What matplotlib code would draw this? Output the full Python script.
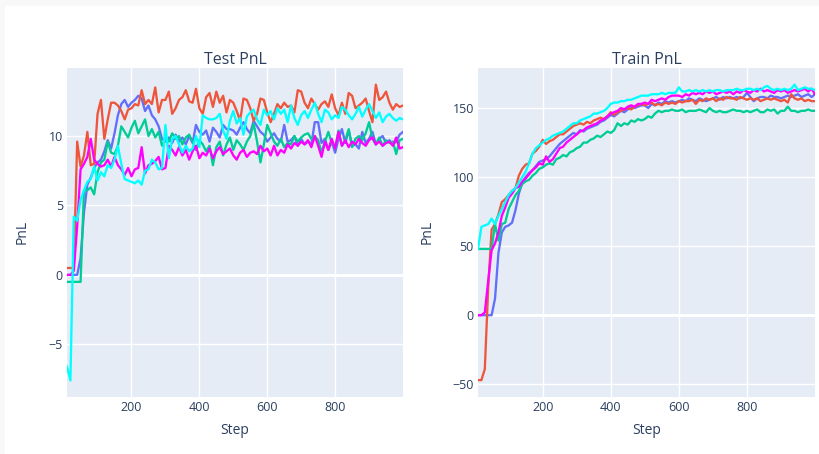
import matplotlib.pyplot as plt
from matplotlib.patches import Rectangle

plt.rcParams['font.family'] = ['Open Sans', 'DejaVu Sans']

steps = list(range(10, 1001, 10))

# ---- Test PnL ----
test_blue = [0, 0, 0, 0, 1.2, 4.5, 6.5, 7.0, 7.7, 8.1,
             8.3, 8.9, 9.7, 9.1, 10.2, 11.5, 12.3, 12.6, 12.1, 12.4,
             12.6, 12.9, 12.7, 11.8, 12.2, 11.5, 11.2, 10.7, 9.8, 9.6,
             9.9, 9.5, 10.1, 9.6, 9.9, 9.4, 10.0, 9.5, 10.8, 10.3,
             10.1, 10.4, 9.6, 10.6, 10.3, 9.9, 10.8, 10.5, 10.5, 10.4,
             10.1, 10.6, 11.0, 10.5, 10.2, 11.1, 10.7, 10.3, 10.1, 9.6,
             9.9, 10.2, 9.8, 9.6, 10.8, 9.6, 9.7, 10.0, 9.3, 9.8,
             9.4, 9.6, 9.4, 11.0, 11.0, 9.5, 9.8, 9.0, 9.6, 8.8,
             9.8, 10.5, 9.5, 10.4, 9.3, 9.4, 9.1, 10.3, 9.5, 9.8,
             10.3, 9.4, 9.8, 10.0, 9.5, 9.7, 9.4, 9.6, 10.1, 10.3]
test_red = [0.5, 0.5, 0.5, 9.6, 7.8, 8.6, 10.3, 7.9, 8.0, 11.6,
            12.6, 9.8, 11.2, 12.4, 12.4, 12.2, 11.8, 11.2, 11.9, 12.0,
            12.3, 12.2, 13.3, 12.3, 12.6, 12.3, 13.5, 11.7, 12.6, 12.6,
            13.2, 11.6, 12.0, 12.6, 12.8, 13.3, 12.5, 12.4, 13.4, 12.0,
            11.6, 12.8, 13.1, 12.1, 13.2, 12.4, 12.9, 11.7, 12.6, 12.4,
            11.8, 11.1, 12.7, 12.6, 12.0, 11.1, 11.6, 12.7, 12.6, 11.7,
            11.0, 11.6, 12.3, 12.0, 12.4, 12.1, 12.2, 11.7, 13.3, 13.2,
            12.4, 12.0, 12.7, 12.3, 11.9, 12.3, 12.5, 12.1, 13.0, 12.0,
            11.5, 12.4, 11.6, 13.1, 12.9, 12.0, 12.2, 12.4, 12.7, 11.8,
            11.0, 13.7, 12.6, 12.8, 13.2, 12.4, 11.9, 12.3, 12.1, 12.2]
test_green = [-0.5, -0.5, -0.5, -0.5, -0.5, 6.1, 6.1, 6.3, 5.8, 7.4,
              8.1, 8.3, 9.6, 8.8, 8.7, 9.3, 10.7, 10.3, 9.9, 10.6,
              11.1, 10.2, 10.7, 11.2, 10.0, 10.5, 9.9, 10.3, 9.3, 9.8,
              9.6, 10.2, 9.8, 10.0, 9.4, 9.9, 10.1, 9.6, 9.0, 9.7,
              9.4, 8.9, 9.3, 7.9, 9.2, 9.6, 8.6, 9.4, 9.9, 9.0,
              9.7, 9.4, 9.0, 9.6, 10.0, 10.9, 9.6, 8.1, 9.4, 10.8,
              10.2, 9.6, 9.3, 9.8, 9.2, 9.5, 9.4, 10.0, 9.6, 9.9,
              10.1, 10.2, 9.8, 10.0, 9.7, 8.8, 9.6, 10.3, 9.5, 9.1,
              10.4, 9.3, 9.7, 10.5, 9.2, 9.8, 10.0, 9.7, 10.2, 11.0,
              9.8, 9.4, 9.9, 9.3, 9.7, 9.5, 9.6, 8.7, 9.7, 9.8]
test_magenta = [0.0, 0.0, 0.3, 3.5, 7.6, 8.0, 8.5, 9.8, 8.3, 8.0,
                7.8, 7.9, 8.3, 7.8, 8.5, 7.9, 7.6, 7.2, 7.7, 7.1,
                7.6, 7.7, 9.2, 7.3, 7.9, 8.0, 8.2, 8.5, 7.6, 7.7,
                9.3, 9.0, 8.6, 9.2, 8.6, 9.0, 8.3, 8.9, 9.3, 8.4,
                8.8, 8.6, 9.1, 8.4, 8.9, 9.2, 8.7, 8.9, 9.1, 8.6,
                8.3, 8.8, 9.0, 8.5, 8.8, 8.9, 8.7, 9.3, 8.9, 9.1,
                8.6, 9.3, 8.6, 9.0, 8.8, 9.4, 9.1, 9.5, 9.3, 9.6,
                9.4, 9.7, 9.2, 10.0, 9.3, 8.5, 9.6, 9.0, 9.8, 9.1,
                10.3, 9.3, 9.7, 9.2, 9.6, 9.4, 9.8, 9.5, 9.3, 9.7,
                9.9, 9.4, 9.6, 9.3, 9.5, 9.6, 9.3, 9.9, 9.1, 9.2]
test_cyan = [-6.6, -7.6, 4.2, 3.9, 5.4, 6.1, 6.7, 6.9, 7.8, 6.8,
             7.4, 7.1, 7.9, 7.7, 8.3, 9.3, 8.0, 6.9, 6.8, 6.7,
             6.6, 6.8, 6.5, 7.5, 7.6, 8.3, 8.1, 7.6, 7.7, 10.8,
             8.4, 9.8, 10.0, 9.4, 8.8, 9.3, 8.9, 9.1, 10.0, 9.2,
             11.5, 11.3, 11.2, 11.2, 11.3, 11.6, 10.4, 9.8, 11.1, 11.8,
             10.9, 11.3, 10.1, 11.4, 11.7, 11.9, 11.2, 10.8, 11.9, 11.5,
             11.8, 11.2, 12.0, 11.6, 11.9, 11.0, 12.2, 11.3, 10.8, 11.5,
             11.8, 11.3, 11.9, 12.4, 11.6, 11.0, 11.9, 11.7, 11.2, 11.5,
             11.3, 12.1, 11.9, 11.5, 11.2, 11.6, 12.1, 11.4, 11.9, 12.3,
             11.8, 11.3, 11.7, 11.0, 11.4, 11.6, 11.3, 11.1, 11.3, 11.2]

# ---- Train PnL ----
train_blue = [0, 0, 0, 0, 0, 12, 45, 60, 64, 65,
              67, 76, 88, 96, 100, 103, 105, 108, 111, 112,
              113, 115, 118, 121, 124, 126, 128, 130, 132, 131,
              134, 133, 135, 136, 137, 138, 140, 141, 143, 145,
              144, 146, 148, 147, 149, 151, 150, 151, 152, 152,
              150, 153, 152, 154, 153, 155, 154, 155, 154, 155,
              156, 155, 157, 156, 155, 157, 156, 155, 156, 157,
              158, 156, 158, 157, 158, 157, 158, 157, 158, 161,
              158, 155, 157, 158, 158, 157, 159, 158, 158, 157,
              158, 159, 158, 159, 160, 158, 159, 160, 158, 160]
train_red = [-47, -47, -39, 20, 62, 66, 73, 82, 84, 87,
             90, 92, 101, 106, 109, 110, 117, 119, 122, 127,
             124, 126, 127, 129, 131, 131, 133, 135, 137, 138,
             139, 138, 140, 139, 141, 142, 143, 142, 144, 147,
             145, 147, 148, 149, 150, 149, 151, 152, 153, 152,
             153, 154, 152, 153, 152, 154, 153, 154, 153, 155,
             154, 155, 155, 156, 153, 156, 155, 157, 156, 157,
             155, 157, 156, 158, 157, 157, 156, 158, 157, 156,
             157, 156, 157, 155, 156, 157, 156, 157, 156, 155,
             156, 154, 160, 157, 156, 157, 155, 156, 155, 155]
train_green = [48, 48, 48, 48, 48, 66, 54, 66, 67, 77,
               82, 87, 90, 95, 97, 98, 101, 103, 106, 107,
               109, 110, 109, 113, 114, 116, 115, 118, 119, 121,
               122, 125, 125, 127, 128, 130, 129, 131, 133, 132,
               134, 139, 137, 139, 138, 141, 140, 142, 141, 142,
               144, 143, 146, 148, 147, 148, 148, 149, 148, 148,
               149, 147, 148, 148, 148, 149, 148, 147, 150, 148,
               147, 148, 147, 147, 148, 149, 148, 148, 147, 148,
               147, 148, 149, 147, 147, 149, 148, 149, 146, 148,
               148, 151, 148, 148, 147, 148, 148, 149, 148, 148]
train_magenta = [0, 0, 2, 25, 47, 52, 60, 72, 78, 85,
                 88, 92, 93, 97, 99, 102, 105, 107, 110, 109,
                 115, 111, 113, 117, 121, 122, 125, 127, 129, 131,
                 133, 134, 136, 137, 138, 139, 141, 142, 144, 146,
                 147, 148, 150, 149, 151, 152, 151, 153, 153, 154,
                 153, 156, 155, 156, 157, 156, 158, 159, 159, 159,
                 158, 160, 159, 161, 160, 161, 160, 162, 161, 162,
                 160, 161, 162, 161, 162, 160, 162, 161, 163, 162,
                 161, 163, 162, 164, 162, 163, 162, 161, 163, 162,
                 163, 161, 162, 163, 162, 163, 164, 162, 164, 160]
train_cyan = [48, 64, 65, 66, 70, 66, 72, 77, 82, 87,
              90, 92, 96, 100, 104, 110, 117, 121, 123, 125,
              127, 128, 130, 131, 132, 133, 135, 137, 139, 139,
              141, 142, 143, 144, 146, 146, 147, 148, 150, 153,
              154, 154, 155, 155, 156, 156, 157, 158, 159, 159,
              159, 160, 160, 160, 161, 160, 161, 161, 161, 165,
              162, 162, 163, 162, 163, 162, 163, 162, 163, 162,
              163, 163, 162, 163, 163, 163, 164, 163, 163, 164,
              164, 163, 164, 163, 165, 166, 164, 163, 164, 163,
              164, 163, 164, 167, 163, 164, 165, 164, 164, 163]

colors = ['#636EFA', '#EF553B', '#00CC96', '#FF00FF', '#00FFFF']
text_col = '#2a3f5f'

fig = plt.figure(figsize=(8.19, 4.54), dpi=100)
fig.patch.set_facecolor('#f8f8f9')
fig.patches.append(Rectangle((5 / 819, 0), 1, 1 - 6 / 454, transform=fig.transFigure,
                             facecolor='white', edgecolor='none', zorder=-10))

W, H = 819, 454
def make_ax(x0, x1):
    y0, y1 = 68, 396.7
    return fig.add_axes([x0 / W, 1 - y1 / H, (x1 - x0) / W, (y1 - y0) / H])

ax1 = make_ax(67, 403)
ax2 = make_ax(478, 815)

panels = [
    (ax1, 'Test PnL', [test_blue, test_red, test_green, test_magenta, test_cyan],
     (-8.77, 14.9), [-5, 0, 5, 10], -0.134),
    (ax2, 'Train PnL', [train_blue, train_red, train_green, train_magenta, train_cyan],
     (-59, 179), [-50, 0, 50, 100, 150], -0.151),
]

for ax, title, series, ylim, yt, ylab_x in panels:
    ax.set_facecolor('#E5ECF6')
    for s, c in zip(series, colors):
        ax.plot(steps, s, color=c, lw=1.65, zorder=3)
    ax.set_xlim(10, 1000)
    ax.set_ylim(*ylim)
    ax.set_xticks([200, 400, 600, 800])
    ax.set_yticks(yt)
    ax.grid(True, color='white', lw=1)
    ax.set_axisbelow(True)
    ax.axhline(0, color='white', lw=2, zorder=1)
    for sp in ax.spines.values():
        sp.set_visible(False)
    ax.tick_params(length=0, labelsize=9, colors=text_col, pad=3)
    ax.set_title(title, fontsize=11.5, color=text_col, pad=3)
    ax.set_xlabel('Step', fontsize=10, color=text_col, va='center')
    ax.set_ylabel('PnL', fontsize=10, color=text_col, va='center')
    ax.xaxis.set_label_coords(0.5, (396.7 - 430) / 328.7)
    ax.yaxis.set_label_coords(ylab_x, 0.5)

fig.savefig('out.png', dpi=100, facecolor=fig.get_facecolor())
